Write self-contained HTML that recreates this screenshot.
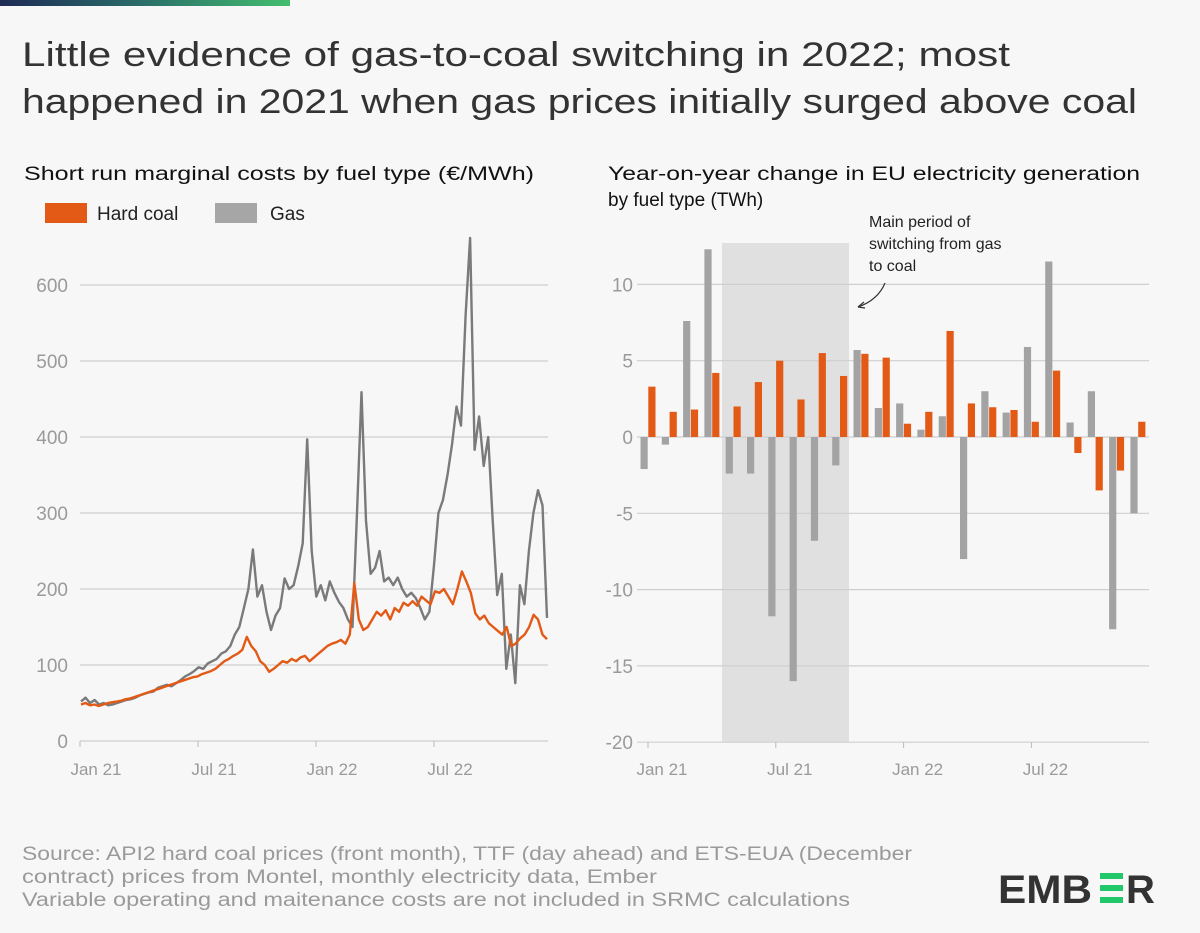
<!DOCTYPE html>
<html><head><meta charset="utf-8"><style>
html,body{margin:0;padding:0;background:#f7f7f7;}
svg{display:block;font-family:"Liberation Sans",sans-serif;}
</style></head><body>
<svg id="chart" width="1200" height="933" viewBox="0 0 1200 933" xmlns="http://www.w3.org/2000/svg">
<defs><linearGradient id="tg" x1="0" x2="1" y1="0" y2="0"><stop offset="0" stop-color="#1e2a55"/><stop offset="0.5" stop-color="#2b6f6a"/><stop offset="1" stop-color="#43be6e"/></linearGradient></defs>
<rect width="1200" height="933" fill="#f7f7f7"/>
<rect x="0" y="0" width="290" height="6" fill="url(#tg)"/>
<g fill="#333" font-size="34">
<text x="22" y="66" textLength="988" lengthAdjust="spacingAndGlyphs">Little evidence of gas-to-coal switching in 2022; most</text>
<text x="22" y="113" textLength="1115" lengthAdjust="spacingAndGlyphs">happened in 2021 when gas prices initially surged above coal</text>
</g>
<text x="24" y="180" font-size="19" fill="#111" textLength="510" lengthAdjust="spacingAndGlyphs">Short run marginal costs by fuel type (€/MWh)</text>
<g>
<rect x="45" y="203" width="42" height="20" fill="#e35a16"/>
<text x="97" y="220" font-size="19" fill="#222">Hard coal</text>
<rect x="215" y="203" width="42" height="20" fill="#a6a6a6"/>
<text x="270" y="220" font-size="19" fill="#222">Gas</text>
</g>
<text x="608" y="180" font-size="19" fill="#111" textLength="532" lengthAdjust="spacingAndGlyphs">Year-on-year change in EU electricity generation</text>
<text x="608" y="206" font-size="19" fill="#111">by fuel type (TWh)</text>
<g id="left"></g>
<g id="right"></g>
<g font-size="16" fill="#222">
<text x="869" y="227">Main period of</text>
<text x="869" y="249">switching from gas</text>
<text x="869" y="271">to coal</text>
<path d="M885 283 Q878 300 858 307" fill="none" stroke="#333" stroke-width="1.2"/>
<path d="M858 307 l6 -5 M858 307 l7 1" fill="none" stroke="#333" stroke-width="1.2"/>
</g>
<g font-size="19" fill="#9a9a9a">
<text x="22" y="860" textLength="890" lengthAdjust="spacingAndGlyphs">Source: API2 hard coal prices (front month), TTF (day ahead) and ETS-EUA (December</text>
<text x="22" y="883" textLength="635" lengthAdjust="spacingAndGlyphs">contract) prices from Montel, monthly electricity data, Ember</text>
<text x="22" y="906" textLength="828" lengthAdjust="spacingAndGlyphs">Variable operating and maitenance costs are not included in SRMC calculations</text>
</g>
<g>
<text x="998" y="903" font-size="40" font-weight="bold" fill="#333" textLength="94" lengthAdjust="spacingAndGlyphs">EMB</text>
<rect x="1100" y="873" width="23" height="6" fill="#20c86a"/>
<rect x="1100" y="885" width="23" height="6" fill="#20c86a"/>
<rect x="1100" y="897" width="23" height="6" fill="#20c86a"/>
<text x="1126" y="903" font-size="40" font-weight="bold" fill="#333">R</text>
</g>
</svg>
<script>
const NS="http://www.w3.org/2000/svg";
// Left chart data (weekly SRMC, €/MWh)
const gasSeries=[52,57,50,54,48,50,47,48,50,52,54,55,57,60,62,64,65,70,72,74,72,76,80,85,88,92,97,95,102,105,108,115,118,125,140,150,175,200,252,190,205,170,146,165,175,214,200,205,230,260,397,250,190,205,185,210,195,183,175,160,150,300,459,290,220,228,250,210,215,205,215,200,190,195,188,175,160,170,230,300,317,350,390,440,415,560,662,383,427,362,400,290,192,220,95,140,76,205,180,250,300,330,310,162];
const coalSeries=[48,50,47,48,46,48,50,51,52,53,55,56,58,60,62,64,66,68,70,72,74,76,78,80,82,84,85,88,90,92,95,100,105,108,112,115,120,137,125,118,105,100,91,95,100,105,103,108,105,110,112,105,110,115,120,125,128,130,133,128,140,208,160,146,150,160,170,165,172,160,175,170,182,178,184,178,190,185,180,197,195,200,190,180,200,223,210,195,168,160,165,155,150,145,140,150,125,128,135,140,150,166,160,140,134];
const leftTicks=[0,100,200,300,400,500,600];
const leftXLabels=["Jan 21","Jul 21","Jan 22","Jul 22"];
// Right chart data (monthly YoY change, TWh)
const months=["Jan 21","Feb 21","Mar 21","Apr 21","May 21","Jun 21","Jul 21","Aug 21","Sep 21","Oct 21","Nov 21","Dec 21","Jan 22","Feb 22","Mar 22","Apr 22","May 22","Jun 22","Jul 22","Aug 22","Sep 22","Oct 22","Nov 22","Dec 22"];
const gasChange=[-2.1,-0.5,7.6,12.3,-2.4,-2.4,-11.75,-16.0,-6.8,-1.86,5.7,1.9,2.2,0.48,1.36,-8.0,3.0,1.6,5.9,11.5,0.95,3.0,-12.6,-5.0];
const coalChange=[3.3,1.65,1.8,4.2,2.0,3.6,5.0,2.46,5.5,4.0,5.45,5.2,0.87,1.65,6.95,2.2,1.95,1.77,1.0,4.35,-1.05,-3.5,-2.2,1.0];
const rightTicks=[-20,-15,-10,-5,0,5,10];
const rightXLabels=["Jan 21","Jul 21","Jan 22","Jul 22"];

function mk(tag,attrs,parent){const e=document.createElementNS(NS,tag);for(const k in attrs)e.setAttribute(k,attrs[k]);parent.appendChild(e);return e;}

// LEFT
const L=document.getElementById('left');


const lx0=80,lx1=548,ly=v=>741-v*0.76;
leftTicks.forEach(t=>{
  if(t>0){const g=mk('line',{x1:lx0,x2:lx1,y1:ly(t),y2:ly(t),stroke:'#cfcfcf','stroke-width':1.2},L);
  
  }
  const tx=mk('text',{x:68,y:ly(t)+7,'font-size':19,fill:'#9a9a9a','text-anchor':'end'},L);tx.textContent=t;
  
  
});
const la=mk('line',{x1:lx0,x2:lx1,y1:741,y2:741,stroke:'#cfcfcf','stroke-width':1.2},L);


const lxs=(lx1-lx0-1)/4;
leftXLabels.forEach((s,i)=>{
  const x=lx0+i*118;
  mk('line',{x1:x,x2:x,y1:741,y2:747,stroke:'#bbb'},L);
  const tx=mk('text',{x:x+16,y:775,'font-size':17,fill:'#9a9a9a','text-anchor':'middle'},L);tx.textContent=s;
  
  
});
function line(arr,color,name){
  const n=arr.length;const x0=lx0+1,x1=547;
  const d=arr.map((v,i)=>(i?'L':'M')+(x0+i*(x1-x0)/(n-1)).toFixed(1)+' '+ly(v).toFixed(1)).join(' ');
  const p=mk('path',{d:d,fill:'none',stroke:color,'stroke-width':2.4,'stroke-linejoin':'round'},L);
  
  
}
line(gasSeries,'#7a7a7a','gas-srmc-line');
line(coalSeries,'#e35a16','coal-srmc-line');

// RIGHT
const R=document.getElementById('right');


const rx0=637,rx1=1149,ry=v=>437-v*15.26;
const sh=mk('rect',{x:722,y:243,width:127,height:499,fill:'#e0e0e0'},R);


rightTicks.forEach(t=>{
  const g=mk('line',{x1:rx0,x2:rx1,y1:ry(t),y2:ry(t),stroke:'#cfcfcf','stroke-width':1.2},R);
  
  
  const tx=mk('text',{x:633,y:ry(t)+7,'font-size':19,fill:'#9a9a9a','text-anchor':'end'},R);tx.textContent=t;
  
  
});
const mStep=21.3,mx=i=>648+i*mStep,bw=7.2;
months.forEach((m,i)=>{
  const g=gasChange[i],c=coalChange[i];
  const gb=mk('rect',{x:mx(i)-bw-0.3,y:Math.min(ry(g),ry(0)),width:bw,height:Math.abs(ry(g)-ry(0)),fill:'#a3a3a3'},R);
  
  
  const cb=mk('rect',{x:mx(i)+0.3,y:Math.min(ry(c),ry(0)),width:bw,height:Math.abs(ry(c)-ry(0)),fill:'#e35a16'},R);
  
  
});
rightXLabels.forEach((s,i)=>{
  const x=mx(i*6);
  mk('line',{x1:x,x2:x,y1:742,y2:748,stroke:'#bbb'},R);
  const tx=mk('text',{x:x+14,y:775,'font-size':17,fill:'#9a9a9a','text-anchor':'middle'},R);tx.textContent=s;
  
  
});
</script>
</body></html>
